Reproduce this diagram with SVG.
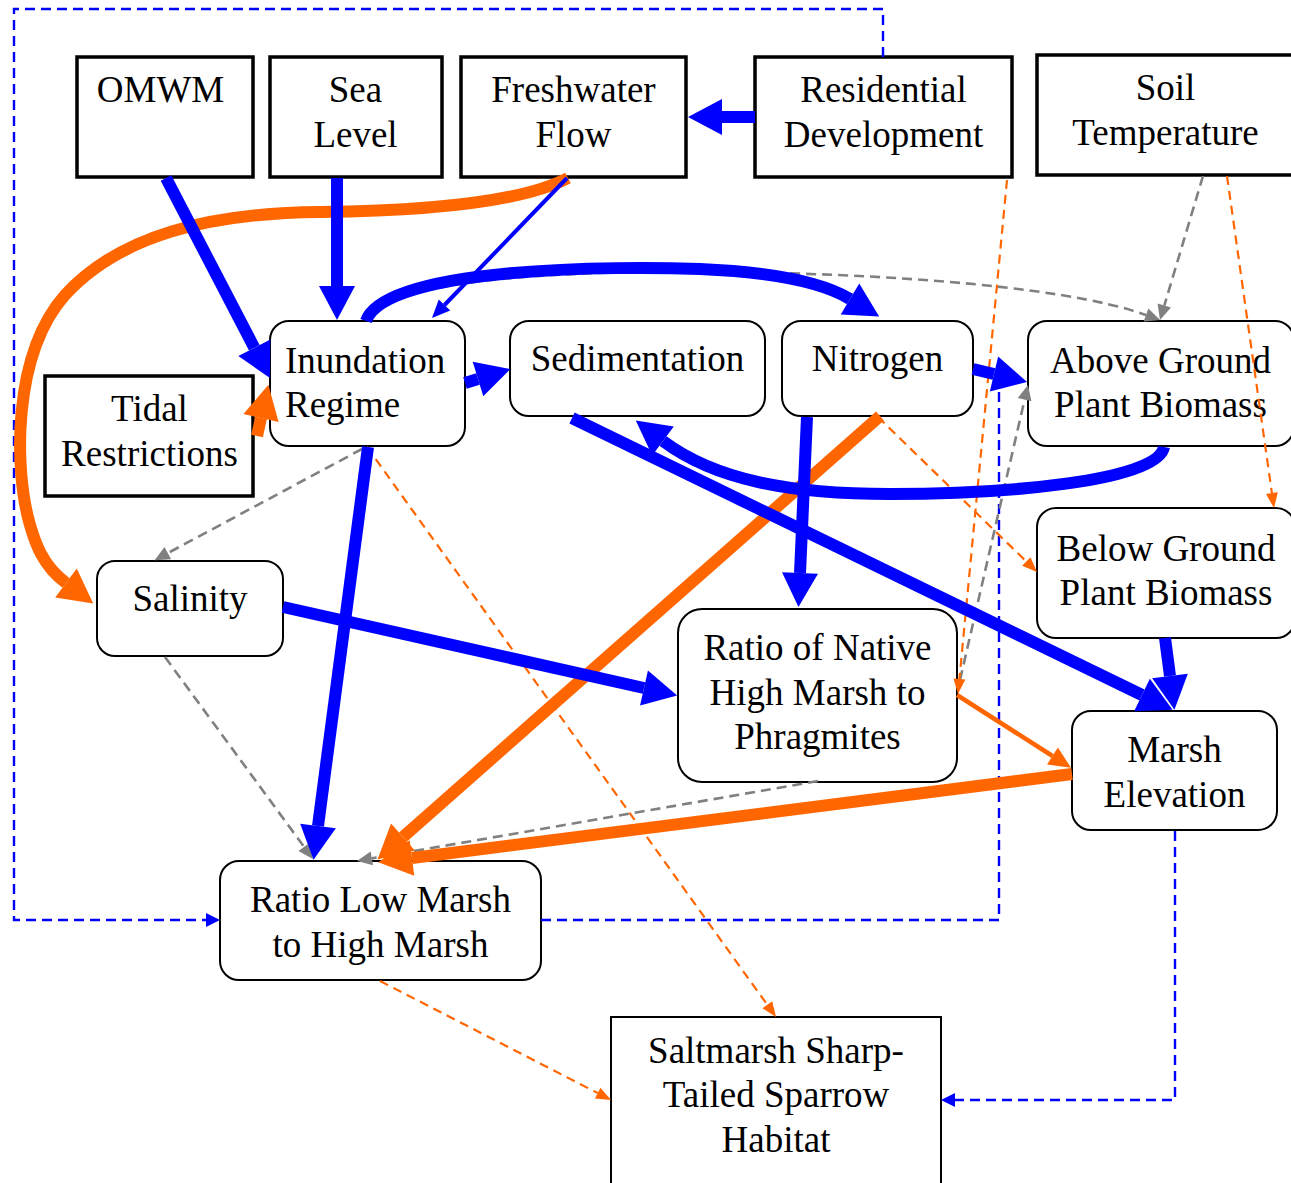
<svg xmlns="http://www.w3.org/2000/svg" width="1291" height="1183" viewBox="0 0 1291 1183">
<style>
.sq{fill:#fff;stroke:#000;stroke-width:3.5}
.sq2{fill:#fff;stroke:#000;stroke-width:2}
.rd{fill:#fff;stroke:#000;stroke-width:2}
text{font-family:"Liberation Serif","Times New Roman",serif;font-size:37px;fill:#000;text-anchor:middle}
.bL{fill:none;stroke:#0000ff;stroke-width:12}
.bM{fill:none;stroke:#0000ff;stroke-width:4}
.oL{fill:none;stroke:#ff6600;stroke-width:12}
.oM{fill:none;stroke:#ff6600;stroke-width:4.5}
.oD{fill:none;stroke:#ff6600;stroke-width:2.2;stroke-dasharray:9,6}
.gD{fill:none;stroke:#808080;stroke-width:2.6;stroke-dasharray:10,6}
.bD{fill:none;stroke:#0000ff;stroke-width:2.4;stroke-dasharray:10,6}
</style>
<defs>
<marker id="hBL" markerUnits="userSpaceOnUse" orient="auto" refX="0" refY="0" markerWidth="40" markerHeight="40" overflow="visible"><path d="M0,-18 L34,0 L0,18 z" fill="#0000ff"/></marker>
<marker id="hOL" markerUnits="userSpaceOnUse" orient="auto" refX="0" refY="0" markerWidth="40" markerHeight="40" overflow="visible"><path d="M0,-18 L34,0 L0,18 z" fill="#ff6600"/></marker>
<marker id="hBM" markerUnits="userSpaceOnUse" orient="auto" refX="0" refY="0" markerWidth="20" markerHeight="20" overflow="visible"><path d="M0,-8 L18,0 L0,8 z" fill="#0000ff"/></marker>
<marker id="hOM" markerUnits="userSpaceOnUse" orient="auto" refX="0" refY="0" markerWidth="24" markerHeight="24" overflow="visible"><path d="M0,-10 L22,0 L0,10 z" fill="#ff6600"/></marker>
<marker id="hOS" markerUnits="userSpaceOnUse" orient="auto" refX="0" refY="0" markerWidth="16" markerHeight="16" overflow="visible"><path d="M0,-6 L15,0 L0,6 z" fill="#ff6600"/></marker>
<marker id="hGS" markerUnits="userSpaceOnUse" orient="auto" refX="0" refY="0" markerWidth="16" markerHeight="16" overflow="visible"><path d="M0,-7 L15,0 L0,7 z" fill="#808080"/></marker>
<marker id="hBS" markerUnits="userSpaceOnUse" orient="auto" refX="0" refY="0" markerWidth="16" markerHeight="16" overflow="visible"><path d="M0,-7 L14,0 L0,7 z" fill="#0000ff"/></marker>
</defs>
<rect width="1291" height="1183" fill="#fff"/>

<g id="n-omwm"><rect class="sq" x="77" y="57" width="176" height="120"/><text x="160.5" y="102">OMWM</text></g>
<g id="n-sealevel"><rect class="sq" x="270" y="57" width="172" height="120"/><text x="355.5" y="102">Sea</text><text x="355.5" y="147">Level</text></g>
<g id="n-freshwater"><rect class="sq" x="461" y="57" width="225" height="120"/><text x="573.5" y="102">Freshwater</text><text x="573.5" y="147">Flow</text></g>
<g id="n-residential"><rect class="sq" x="755" y="57" width="257" height="120"/><text x="883.5" y="102">Residential</text><text x="883.5" y="147">Development</text></g>
<g id="n-soiltemp"><rect class="sq" x="1037" y="55" width="258" height="120"/><text x="1165.5" y="100">Soil</text><text x="1165.5" y="145">Temperature</text></g>
<g id="n-tidal"><rect class="sq" x="45" y="376" width="208" height="120"/><text x="149.5" y="421">Tidal</text><text x="149.5" y="466">Restrictions</text></g>
<g id="n-inundation"><rect class="rd" x="270" y="321" width="195" height="125" rx="19"/><text x="285" y="373" style="text-anchor:start">Inundation</text><text x="285" y="417" style="text-anchor:start">Regime</text></g>
<g id="n-sedimentation"><rect class="rd" x="510" y="321" width="255" height="95" rx="19"/><text x="637.5" y="371">Sedimentation</text></g>
<g id="n-nitrogen"><rect class="rd" x="782" y="321" width="191" height="95" rx="19"/><text x="877.5" y="371">Nitrogen</text></g>
<g id="n-aboveground"><rect class="rd" x="1028" y="321" width="266" height="125" rx="19"/><text x="1160.5" y="373">Above Ground</text><text x="1160.5" y="417">Plant Biomass</text></g>
<g id="n-belowground"><rect class="rd" x="1037" y="508" width="258" height="130" rx="19"/><text x="1166" y="561">Below Ground</text><text x="1166" y="605">Plant Biomass</text></g>
<g id="n-salinity"><rect class="rd" x="97" y="561" width="186" height="95" rx="18"/><text x="190" y="611">Salinity</text></g>
<g id="n-ratiohigh"><rect class="rd" x="678" y="609" width="279" height="173" rx="24"/><text x="817.5" y="660">Ratio of Native</text><text x="817.5" y="705">High Marsh to</text><text x="817.5" y="749">Phragmites</text></g>
<g id="n-marshelev"><rect class="rd" x="1072" y="711" width="205" height="119" rx="19"/><text x="1174.5" y="762">Marsh</text><text x="1174.5" y="807">Elevation</text></g>
<g id="n-ratiolow"><rect class="rd" x="220" y="861" width="321" height="119" rx="19"/><text x="380.5" y="912">Ratio Low Marsh</text><text x="380.5" y="957">to High Marsh</text></g>
<g id="n-sparrow"><rect class="sq2" x="611" y="1017" width="330" height="175"/><text x="776" y="1063">Saltmarsh Sharp-</text><text x="776" y="1107">Tailed Sparrow</text><text x="776" y="1152">Habitat</text></g>

<g id="connectors">
<!-- blue dashed -->
<path class="bD" d="M883,57 V9 H14 V920 H206" marker-end="url(#hBS)"/>
<path class="bD" d="M541,920 H999 V388"/>
<path class="bD" d="M1175,831 V1100 H955" marker-end="url(#hBS)"/>
<!-- gray dashed -->
<path class="gD" d="M368,320 C385,284 520,274 640,272 C850,270 1060,284 1146,315" marker-end="url(#hGS)"/>
<path class="gD" d="M1203,176 L1164.3,305.6" marker-end="url(#hGS)"/>
<path class="gD" d="M960,680 L1024.6,399.6" marker-end="url(#hGS)"/>
<path class="gD" d="M362,449 L167.8,553.1" marker-end="url(#hGS)"/>
<path class="gD" d="M165,657 L304.1,846.9" marker-end="url(#hGS)"/>
<path class="gD" d="M818,781 L371.8,858.4" marker-end="url(#hGS)"/>
<!-- orange dashed -->
<path class="oD" d="M1007,180 L959.4,679" marker-end="url(#hOS)"/>
<path class="oD" d="M1227,176 L1271.9,493.1" marker-end="url(#hOS)"/>
<path class="oD" d="M878,417 L1026.3,561.5" marker-end="url(#hOS)"/>
<path class="oD" d="M367,447 L767.3,1004.8" marker-end="url(#hOS)"/>
<path class="oD" d="M380,981 L597.7,1093.1" marker-end="url(#hOS)"/>
<!-- orange solid -->
<path class="oL" d="M568,178 C520,203 420,211 320,212 C210,213 120,235 65,295 C12,355 14,470 30,525 C35,542 42,565 66,583" marker-end="url(#hOL)"/>
<path class="oL" d="M257,436 L261,418" marker-end="url(#hOL)"/>
<path class="oL" d="M880,416 L403,837" marker-end="url(#hOL)"/>
<path class="oL" d="M1072,774 L412,858" marker-end="url(#hOL)"/>
<path class="oM" d="M957,695 L1052.5,756" marker-end="url(#hOM)"/>
<!-- blue solid -->
<path class="bL" d="M755,117 L722,117" marker-end="url(#hBL)"/>
<path class="bL" d="M166,178 L254.3,347.8" marker-end="url(#hBL)"/>
<path class="bL" d="M337,178 L337,286" marker-end="url(#hBL)"/>
<path class="bM" d="M567,178 L444.5,305" marker-end="url(#hBM)"/>
<path class="bL" d="M465,383 L478,379" marker-end="url(#hBL)"/>
<path class="bL" d="M366,321 C385,266 620,266 700,269 C770,272 820,281 850,299" marker-end="url(#hBL)"/>
<path class="bL" d="M973,369 L994,374" marker-end="url(#hBL)"/>
<path class="bL" d="M807,417 L800,573" marker-end="url(#hBL)"/>
<path class="bL" d="M572,418 L1142,695" marker-end="url(#hBL)"/>
<path class="bL" d="M1164,447 C1158,482 1000,494 890,494 C790,494 715,480 663,441" marker-end="url(#hBL)"/>
<path class="bL" d="M1165,638 L1170,676" marker-end="url(#hBL)"/>
<path class="bL" d="M368,447 L318,826" marker-end="url(#hBL)"/>
<path class="bL" d="M283,607 L644,688" marker-end="url(#hBL)"/>
</g>
</svg>
